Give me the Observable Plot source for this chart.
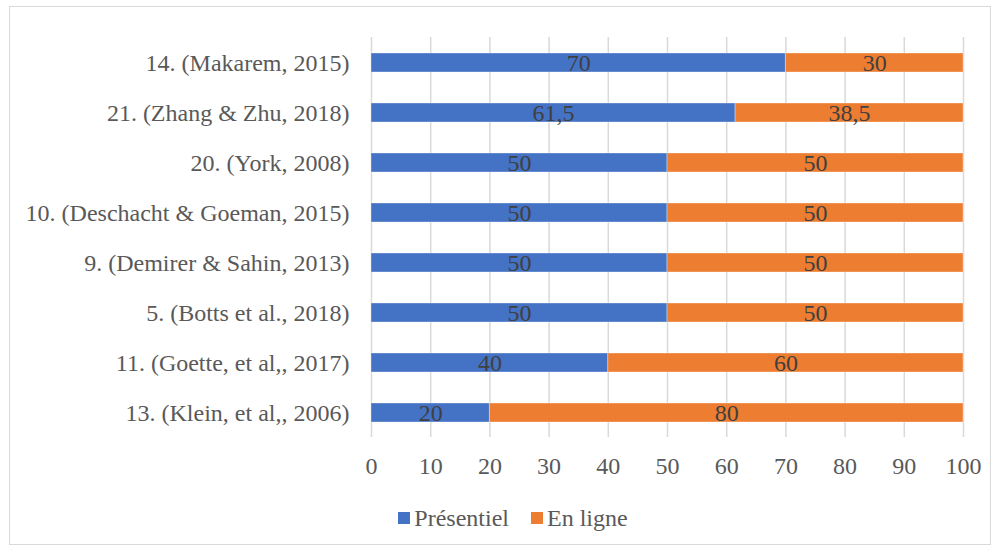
<!DOCTYPE html>
<html>
<head>
<meta charset="utf-8">
<script src="https://cdn.jsdelivr.net/npm/d3@7"></script>
<script src="https://cdn.jsdelivr.net/npm/@observablehq/plot@0.6"></script>
<style>
  html, body { margin: 0; padding: 0; background: #fff; }
  #frame { position: absolute; left: 9px; top: 6px; width: 982px; height: 539px; border: 1px solid #d9d9d9; box-sizing: border-box; }
  #chart { position: absolute; left: 0; top: 0; }
  #legend { position: absolute; left: 13px; top: 500px; width: 1000px; height: 36px; display: flex; justify-content: center; align-items: center; font-family: "Liberation Serif", "Times New Roman", serif; font-size: 24px; color: #595959; }
  .item { display: flex; align-items: center; margin: 0 11px; }
  .sw { width: 12px; height: 12px; margin-right: 4px; }
  #chart svg, #chart svg text { font-family: "Liberation Serif", "Times New Roman", serif !important; }
</style>
</head>
<body>
<div id="frame"></div>
<div id="chart"></div>
<div id="legend"></div>
<script>
const studies = [
  "14. (Makarem, 2015)",
  "21. (Zhang & Zhu, 2018)",
  "20. (York, 2008)",
  "10. (Deschacht & Goeman, 2015)",
  "9. (Demirer & Sahin, 2013)",
  "5. (Botts et al., 2018)",
  "11. (Goette, et al,, 2017)",
  "13. (Klein, et al,, 2006)"
];
const presentiel = [70, 61.5, 50, 50, 50, 50, 40, 20];
const enLigne = [30, 38.5, 50, 50, 50, 50, 60, 80];
const series = ["Présentiel", "En ligne"];
const colors = ["#4472C4", "#ED7D31"];
const xTicks = [0, 10, 20, 30, 40, 50, 60, 70, 80, 90, 100];

const rows = [];
studies.forEach((s, i) => {
  rows.push({study: s, mode: series[0], value: presentiel[i]});
  rows.push({study: s, mode: series[1], value: enLigne[i]});
});
const fmt = v => String(v).replace(".", ",");

const chart = Plot.plot({
  width: 1000,
  height: 492,
  marginLeft: 371,
  marginRight: 37,
  marginTop: 37,
  marginBottom: 55,
  style: {fontFamily: "'Liberation Serif', 'Times New Roman', serif", fontSize: "24px", color: "#595959", background: "transparent"},
  x: {domain: [0, 100], ticks: xTicks, label: null, tickSize: 0, tickPadding: 19},
  y: {domain: studies, label: null, paddingInner: 0.62, paddingOuter: 0.31, tickSize: 0, tickPadding: 22},
  color: {domain: series, range: colors},
  marks: [
    Plot.gridX(xTicks, {stroke: "#d9d9d9", strokeOpacity: 1, strokeWidth: 1.5}),
    Plot.barX(rows, Plot.stackX({x: "value", y: "study", fill: "mode", order: series, stroke: "#fff", strokeOpacity: 0.35, strokeWidth: 1})),
    Plot.text(rows, Plot.stackX({x: "value", y: "study", z: "mode", order: series, text: d => fmt(d.value), fill: "#404040", fontSize: 24, dy: 0}))
  ]
});
document.getElementById("chart").appendChild(chart);

const legend = document.getElementById("legend");
series.forEach((s, i) => {
  const item = document.createElement("div");
  item.className = "item";
  const sw = document.createElement("div");
  sw.className = "sw";
  sw.style.background = colors[i];
  const t = document.createElement("span");
  t.textContent = s;
  item.appendChild(sw);
  item.appendChild(t);
  legend.appendChild(item);
});
</script>
</body>
</html>
